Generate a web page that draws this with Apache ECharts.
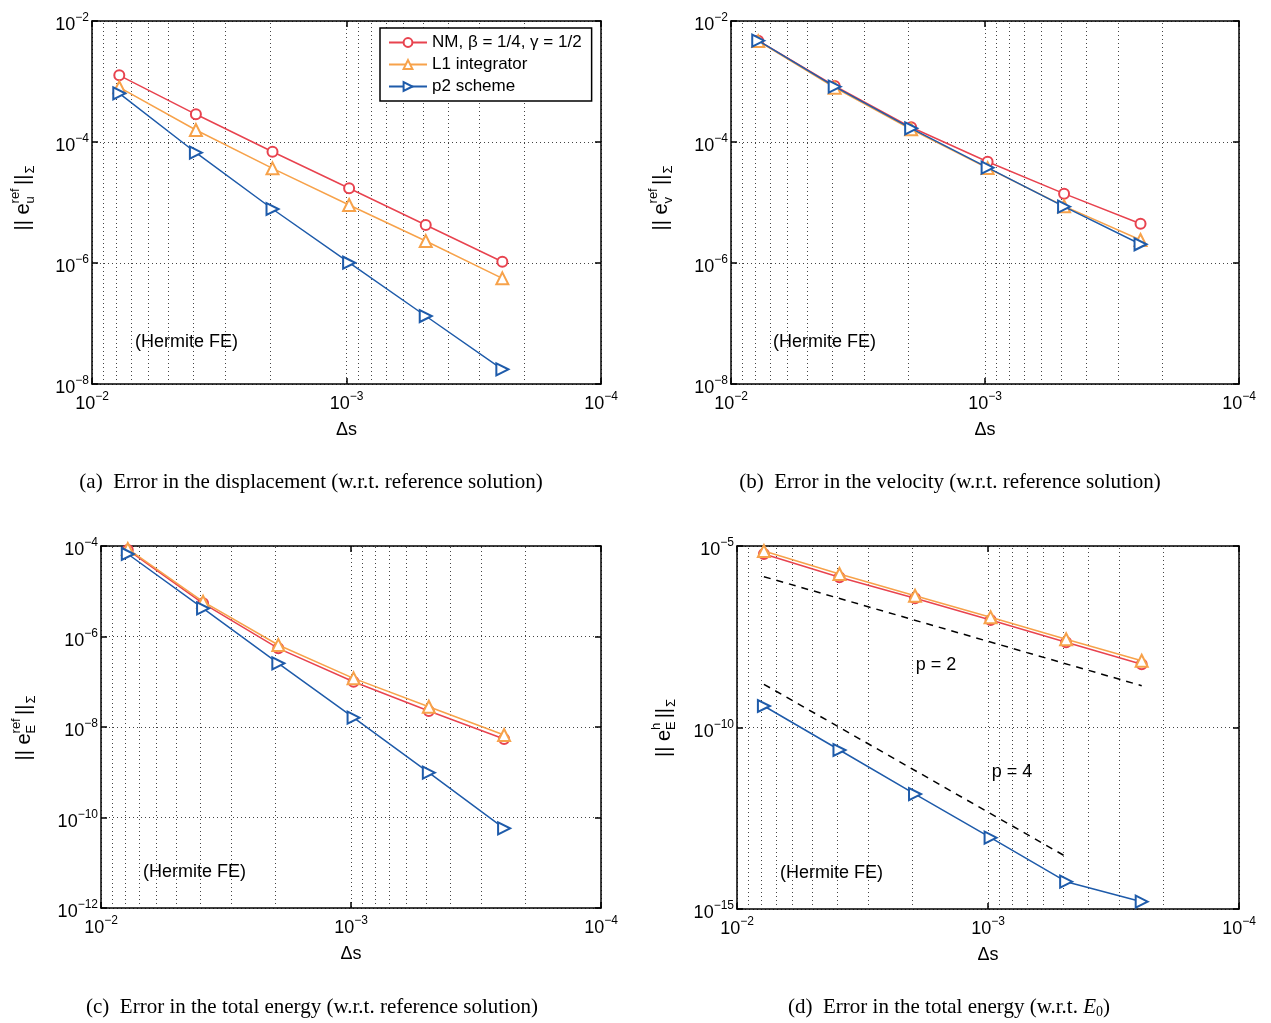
<!DOCTYPE html>
<html><head><meta charset="utf-8">
<script src="https://cdn.jsdelivr.net/npm/echarts@6/dist/echarts.min.js"></script>
<style>html,body{margin:0;padding:0;background:#fff}#c{width:1271px;height:1023px}</style>
</head><body><div id="c"></div><script>
// ---------- data ----------
const ds = [0.0078125, 0.00390625, 0.001953125, 0.0009765625, 0.00048828125, 0.000244140625];
const minorX = [9e-3, 8e-3, 7e-3, 6e-3, 5e-3, 4e-3, 3e-3, 2e-3, 9e-4, 8e-4, 7e-4, 6e-4, 5e-4, 4e-4, 3e-4, 2e-4];
const seriesNames = ['NM, β = 1/4, γ = 1/2', 'L1 integrator', 'p2 scheme'];
// (a) displacement
const dispNM = [1.265e-3, 2.87e-4, 6.91e-5, 1.72e-5, 4.25e-6, 1.05e-6];
const dispL1 = [8.02e-4, 1.58e-4, 3.67e-5, 9.1e-6, 2.31e-6, 5.58e-7];
const dispP2 = [6.38e-4, 6.65e-5, 7.81e-6, 1.01e-6, 1.33e-7, 1.75e-8];
// (b) velocity
const velNM = [4.72e-3, 8.43e-4, 1.75e-4, 4.72e-5, 1.40e-5, 4.46e-6];
const velL1 = [4.65e-3, 7.9e-4, 1.62e-4, 3.7e-5, 8.7e-6, 2.4e-6];
const velP2 = [4.72e-3, 8.2e-4, 1.68e-4, 3.76e-5, 8.53e-6, 2.04e-6];
// (c) total energy w.r.t. reference
const enNM = [8.2e-5, 5.42e-6, 5.48e-7, 1.0e-7, 2.26e-8, 5.43e-9];
const enL1 = [8.6e-5, 5.87e-6, 6.49e-7, 1.19e-7, 2.81e-8, 6.65e-9];
const enP2 = [6.66e-5, 4.2e-6, 2.56e-7, 1.61e-8, 9.77e-10, 5.77e-11];
// (d) total energy w.r.t. E0
const e0NM = [6.0e-6, 1.37e-6, 3.62e-7, 9.14e-8, 2.22e-8, 5.5e-9];
const e0L1 = [7.3e-6, 1.69e-6, 4.28e-7, 1.09e-7, 2.69e-8, 6.92e-9];
const e0P2 = [3.91e-10, 2.4e-11, 1.47e-12, 9.2e-14, 5.65e-15, 1.59e-15];
const slope2X = [0.0078125, 0.000244140625];
const slope2Y = [1.43e-6, 1.42e-9];
const slope4X = [0.0078125, 0.00048828125];
const slope4Y = [1.55e-9, 2.76e-14];
// axis ranges: [min, max, decade step of labels]
const yRanges = [[1e-8, 1e-2, 2], [1e-8, 1e-2, 2], [1e-12, 1e-4, 2], [1e-15, 1e-5, 5]];

// ---------- styling ----------
const FONT = '"Liberation Sans", Arial, Helvetica, sans-serif';
const SERIF = '"Liberation Serif", "Times New Roman", serif';
const COLORS = ['#E8434F', '#F7A24A', '#1E5BAA'];
const SYMBOLS = ['emptyCircle', 'emptyTriangle', 'emptyTriangle'];
const SIZES = [10, 12, 12];
const ROT = [0, 0, -90];
const grids = [
  {left: 92, top: 21, width: 509, height: 363},
  {left: 731, top: 21, width: 508, height: 363},
  {left: 101, top: 546, width: 500, height: 362},
  {left: 737, top: 546, width: 502, height: 363}
];
const AX = {color: '#000', width: 1.5};
const GRIDLINE = {type: [1, 3], color: '#444', width: 1};
const rich = {
  b: {fontFamily: FONT, fontSize: 18, lineHeight: 18, padding: [9, 0, 0, 0], color: '#000'},
  p: {fontFamily: FONT, fontSize: 12, lineHeight: 12, verticalAlign: 'top', color: '#000'}
};
function powLabel(v) {
  const e = Math.round(Math.log10(v));
  return '{b|10}{p|' + (e < 0 ? '\u2212' : '') + Math.abs(e) + '}';
}

const xAxis = [], yAxis = [], series = [];
grids.forEach((g, i) => {
  const [ymin, ymax, step] = yRanges[i];
  const minExp = Math.round(Math.log10(ymin));
  xAxis.push({
    gridIndex: i, type: 'log', logBase: 10, min: 1e-4, max: 1e-2, inverse: true, position: 'bottom',
    axisLine: {show: true, lineStyle: AX}, axisTick: {show: true, inside: true, length: 6, lineStyle: AX},
    axisLabel: {show: true, margin: 7, formatter: powLabel, rich: rich},
    splitLine: {show: true, lineStyle: GRIDLINE},
    name: 'Δs', nameLocation: 'middle', nameGap: 37,
    nameTextStyle: {fontFamily: FONT, fontSize: 18, color: '#000'}
  });
  xAxis.push({
    gridIndex: i, type: 'log', logBase: 10, min: 1e-4, max: 1e-2, inverse: true, position: 'top',
    axisLine: {show: true, lineStyle: AX}, axisTick: {show: true, inside: true, length: 6, lineStyle: AX},
    axisLabel: {show: false}, splitLine: {show: false}
  });
  yAxis.push({
    gridIndex: i, type: 'log', logBase: 10, min: ymin, max: ymax, interval: step, position: 'left',
    axisLine: {show: true, lineStyle: AX}, axisTick: {show: true, inside: true, length: 6, lineStyle: AX},
    axisLabel: {show: true, margin: 3, rich: rich, formatter: v => {
      const e = Math.round(Math.log10(v));
      return ((e - minExp) % step === 0) ? powLabel(v) : '';
    }},
    splitLine: {show: true, lineStyle: GRIDLINE}
  });
  yAxis.push({
    gridIndex: i, type: 'log', logBase: 10, min: ymin, max: ymax, interval: step, position: 'right',
    axisLine: {show: true, lineStyle: AX}, axisTick: {show: true, inside: true, length: 6, lineStyle: AX},
    axisLabel: {show: false}, splitLine: {show: false}
  });
});

const panelData = [
  [dispNM, dispL1, dispP2],
  [velNM, velL1, velP2],
  [enNM, enL1, enP2],
  [e0NM, e0L1, e0P2]
];
panelData.forEach((arr, i) => {
  const [ymin, ymax] = yRanges[i];
  arr.forEach((vals, k) => {
    const s = {
      type: 'line', name: seriesNames[k], xAxisIndex: 2 * i, yAxisIndex: 2 * i,
      data: ds.map((x, j) => [x, vals[j]]),
      symbol: SYMBOLS[k], symbolSize: SIZES[k], symbolRotate: ROT[k], showSymbol: true,
      color: COLORS[k],
      lineStyle: {color: COLORS[k], width: 1.5},
      itemStyle: {color: COLORS[k], borderColor: COLORS[k], borderWidth: 1.5},
      animation: false, z: 3 + k
    };
    if (k === 0) {
      // minor vertical grid lines (2..9 x 10^k)
      s.markLine = {
        z: 1, silent: true, animation: false, symbol: ['none', 'none'], label: {show: false},
        lineStyle: GRIDLINE, emphasis: {disabled: true},
        data: minorX.map(v => [{coord: [v, ymin]}, {coord: [v, ymax]}])
      };
    }
    series.push(s);
  });
});
// reference slopes in (d)
series.push({
  type: 'line', xAxisIndex: 6, yAxisIndex: 6, data: slope2X.map((x, j) => [x, slope2Y[j]]),
  symbol: 'none', lineStyle: {color: '#000', width: 1.5, type: [7, 6]}, animation: false, z: 2
});
series.push({
  type: 'line', xAxisIndex: 6, yAxisIndex: 6, data: slope4X.map((x, j) => [x, slope4Y[j]]),
  symbol: 'none', lineStyle: {color: '#000', width: 1.5, type: [7, 6]}, animation: false, z: 2
});

function txt(x, y, text, size, align, font) {
  return {type: 'text', x: x, y: y, z: 10, style: {text: text, fontFamily: font || FONT, fontSize: size,
    fill: '#000', align: align || 'left', verticalAlign: 'middle'}};
}
function yLabel(cx, cy, sup, sub) {
  const sz = 20, ss = 13;
  const w1 = 27, wsup = sup === 'ref' ? 15.5 : 7.5, wsub = sub === 'E' ? 8.7 : 7.5;
  const ws = Math.max(wsup, wsub);
  const total = w1 + ws + 3 + 10.4 + 1 + 8;
  let x0 = -total / 2;
  const t = (x, y, text, size) => ({type: 'text', x: x, y: y, style: {text: text, fontFamily: FONT, fontSize: size, fill: '#000', align: 'left', verticalAlign: 'middle'}});
  return {
    type: 'group', x: cx, y: cy, rotation: Math.PI / 2, z: 10,
    children: [
      t(x0, 0, '|| e', sz),
      t(x0 + w1, -8, sup, ss),
      t(x0 + w1, 7, sub, ss),
      t(x0 + w1 + ws + 3, 0, '||', sz),
      t(x0 + w1 + ws + 3 + 10.4 + 1, 7, 'Σ', ss)
    ]
  };
}
const capRich = {
  n: {fontFamily: SERIF, fontSize: 21, color: '#000', lineHeight: 24},
  i: {fontFamily: SERIF, fontSize: 21, fontStyle: 'italic', color: '#000', lineHeight: 24},
  s: {fontFamily: SERIF, fontSize: 14, color: '#000', lineHeight: 14, padding: [8, 0, 0, 0], verticalAlign: 'bottom'}
};
function caption(cx, cy, text) {
  return {type: 'text', x: cx, y: cy, z: 10, style: {text: text, rich: capRich, align: 'center', verticalAlign: 'middle'}};
}

const graphic = [
  txt(135, 342, '(Hermite FE)', 18),
  txt(773, 342, '(Hermite FE)', 18),
  txt(143, 872, '(Hermite FE)', 18),
  txt(780, 873, '(Hermite FE)', 18),
  txt(936, 665, 'p = 2', 18, 'center'),
  txt(1012, 772, 'p = 4', 18, 'center'),
  yLabel(23, 198, 'ref', 'u'),
  yLabel(661, 198, 'ref', 'v'),
  yLabel(24, 728, 'ref', 'E'),
  yLabel(664, 728, 'h', 'E'),
  caption(311, 482, '{n|(a)\u2002Error in the displacement (w.r.t. reference solution)}'),
  caption(950, 482, '{n|(b)\u2002Error in the velocity (w.r.t. reference solution)}'),
  caption(312, 1007, '{n|(c)\u2002Error in the total energy (w.r.t. reference solution)}'),
  caption(949, 1007, '{n|(d)\u2002Error in the total energy (w.r.t. }{i|E}{s|0}{n|)}')
];

const chart = echarts.init(document.getElementById('c'), null, {renderer: 'canvas'});
chart.setOption({
  backgroundColor: '#fff',
  animation: false,
  grid: grids.map(g => Object.assign({containLabel: false}, g)),
  xAxis: xAxis,
  yAxis: yAxis,
  legend: {
    show: true, data: seriesNames, left: 380, top: 28, orient: 'vertical',
    itemWidth: 38, itemHeight: 11, itemGap: 5, padding: [6, 10, 6, 8],
    borderColor: '#000', borderWidth: 1.5, backgroundColor: '#fff', selectedMode: false,
    textStyle: {fontFamily: FONT, fontSize: 17, color: '#000'}
  },
  series: series,
  graphic: {elements: graphic}
});
</script></body></html>
